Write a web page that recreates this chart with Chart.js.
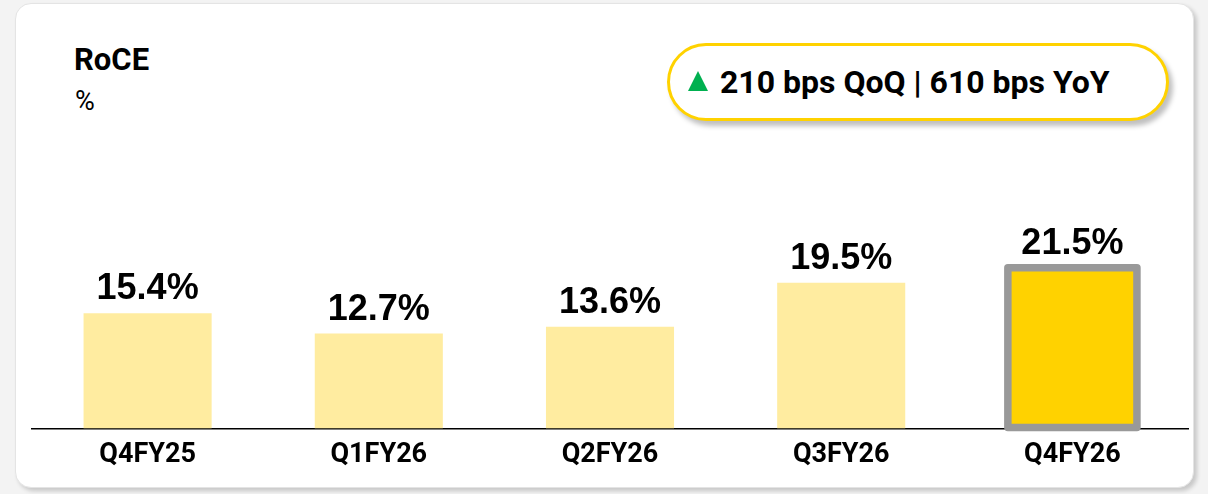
<!DOCTYPE html>
<html>
<head>
<meta charset="utf-8">
<script src="https://cdn.jsdelivr.net/npm/chart.js@4"></script>
<style>
  html, body { margin: 0; padding: 0; width: 1208px; height: 494px; background: #f3f3f3; overflow: hidden; }
  .card { position: absolute; left: 15px; top: 3px; width: 1177px; height: 483px; background: #fff;
          border: 1px solid #e4e4e4; border-radius: 16px; box-shadow: 3px 3px 4px rgba(0,0,0,0.18); }
  .title { position: absolute; left: 74px; top: 41px; font-family: Roboto, sans-serif; font-weight: 700; font-size: 31px; color: #000; }
  .unit { position: absolute; left: 75px; top: 85px; font-family: Roboto, sans-serif; font-size: 27px; color: #000; }
  .badge { position: absolute; left: 667px; top: 43px; width: 502px; height: 78px; box-sizing: border-box;
           border: 3.5px solid #FFD200; border-radius: 40px; background: #fff;
           box-shadow: 4px 5px 5px rgba(0,0,0,0.25);
           font-family: Roboto, sans-serif; font-weight: 700; font-size: 32px; color: #000;
           display: flex; align-items: center; padding-left: 18px; white-space: nowrap; }
  .tri { width: 0; height: 0; border-left: 10px solid transparent; border-right: 10px solid transparent;
         border-bottom: 20px solid #00B050; margin-right: 12px; position: relative; top: -1px; }
  #wrap { position: absolute; left: 0; top: 0; width: 1208px; height: 494px; }
</style>
</head>
<body>
<div class="card"></div>
<div class="title">RoCE</div>
<div class="unit">%</div>
<div class="badge"><span class="tri"></span>210 bps QoQ | 610 bps YoY</div>
<div id="wrap"><canvas id="c" width="1208" height="494"></canvas></div>
<script>
const categories = ["Q4FY25", "Q1FY26", "Q2FY26", "Q3FY26", "Q4FY26"];
const roceValues = [15.4, 12.7, 13.6, 19.5, 21.5];
const valueLabels = ["15.4%", "12.7%", "13.6%", "19.5%", "21.5%"];
const barColors = ["#FFECA0", "#FFECA0", "#FFECA0", "#FFECA0", "#FFD200"];

const highlightOutline = {
  id: 'highlightOutline',
  afterDatasetsDraw(chart) {
    const meta = chart.getDatasetMeta(0);
    const el = meta.data[meta.data.length - 1];
    const ctx = chart.ctx;
    const half = el.width / 2;
    ctx.save();
    ctx.strokeStyle = '#999999';
    ctx.lineWidth = 7.5;
    ctx.lineJoin = 'round';
    ctx.strokeRect(el.x - half - 0.5, el.y, el.width + 1, el.base - el.y - 1);
    ctx.restore();
  }
};

const valueLabelPlugin = {
  id: 'valueLabels',
  afterDatasetsDraw(chart) {
    const meta = chart.getDatasetMeta(0);
    const ctx = chart.ctx;
    ctx.save();
    ctx.font = 'bold 36px "Liberation Sans", Arial, sans-serif';
    ctx.fillStyle = '#000';
    ctx.textAlign = 'center';
    ctx.textBaseline = 'alphabetic';
    meta.data.forEach((el, i) => {
      ctx.fillText(valueLabels[i], el.x, el.y - 14);
    });
    ctx.restore();
  }
};

new Chart(document.getElementById('c'), {
  type: 'bar',
  data: {
    labels: categories,
    datasets: [{
      data: roceValues,
      backgroundColor: barColors,
      borderWidth: 0,
      barPercentage: 0.554,
      categoryPercentage: 1.0
    }]
  },
  options: {
    responsive: false,
    animation: false,
    devicePixelRatio: 1,
    layout: { padding: { left: 32, right: 20, top: 241.5, bottom: 13 } },
    plugins: { legend: { display: false }, tooltip: { enabled: false } },
    scales: {
      x: {
        grid: { display: false, drawTicks: false },
        border: { display: true, color: '#000', width: 1.5 },
        ticks: { color: '#000', padding: 10, font: { family: 'Roboto', weight: 'bold', size: 27 } }
      },
      y: { display: false, min: 0, max: 25 }
    }
  },
  plugins: [highlightOutline, valueLabelPlugin]
});
</script>
</body>
</html>
